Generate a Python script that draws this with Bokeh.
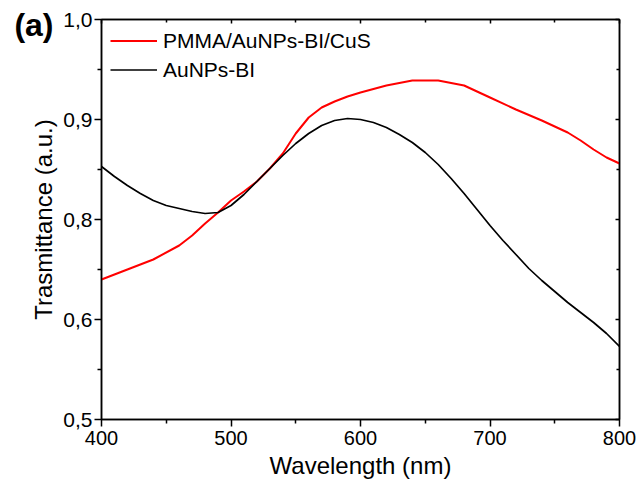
from bokeh.plotting import figure
from bokeh.models import (Range1d, FixedTicker, LinearAxis, Legend, LegendItem,
                          CustomLabelingPolicy)
from bokeh.embed import file_html
from bokeh.resources import INLINE

# Wavelength (nm)
wl_red = [400, 420, 440, 460, 470, 480, 490, 500, 510, 520, 530, 540, 550, 560,
          570, 580, 590, 600, 620, 640, 660, 680, 700, 720, 740, 760, 770, 780, 790, 800]
t_red = [0.740, 0.750, 0.760, 0.774, 0.784, 0.796, 0.807, 0.819, 0.828, 0.838, 0.851,
         0.866, 0.886, 0.902, 0.912, 0.918, 0.923, 0.927, 0.934, 0.939, 0.939, 0.934,
         0.922, 0.910, 0.899, 0.887, 0.879, 0.870, 0.862, 0.856]

wl_black = [400, 405, 410, 420, 430, 440, 450, 460, 470, 480, 490, 500, 510, 520, 530,
            540, 550, 560, 570, 580, 590, 600, 610, 620, 630, 640, 650, 660, 670, 680,
            690, 700, 710, 720, 730, 740, 750, 760, 770, 780, 790, 800]
t_black = [0.853, 0.848, 0.843, 0.834, 0.826, 0.819, 0.814, 0.811, 0.808, 0.806, 0.807,
           0.814, 0.825, 0.838, 0.851, 0.864, 0.876, 0.886, 0.894, 0.899, 0.901, 0.900,
           0.897, 0.892, 0.885, 0.877, 0.867, 0.855, 0.841, 0.826, 0.810, 0.794, 0.779,
           0.765, 0.751, 0.739, 0.728, 0.717, 0.707, 0.697, 0.686, 0.673]

x_ticks = [400, 500, 600, 700, 800]
x_minor = [450, 550, 650, 750]
y_ticks = [0.6, 0.7, 0.8, 0.9, 1.0]
y_minor = [0.65, 0.75, 0.85, 0.95]
y_tick_labels = {0.6: "0,5", 0.7: "0,6", 0.8: "0,8", 0.9: "0,9", 1.0: "1,0"}

series_names = ["PMMA/AuNPs-BI/CuS", "AuNPs-BI"]
panel_tag = "(a)"
panel_tag_y = 0.995

FONT = "Liberation Sans"

p = figure(frame_width=518, frame_height=400,
           min_border_left=101, min_border_right=19, min_border_top=19, min_border_bottom=66,
           x_range=Range1d(400, 800), y_range=Range1d(0.6, 1.0),
           output_backend="svg", toolbar_location=None,
           background_fill_color="white", border_fill_color="white")
p.grid.visible = False
p.outline_line_color = "black"
p.outline_line_width = 1.5

r_red = p.line(wl_red, t_red, line_color="#ff0000", line_width=2)
r_black = p.line(wl_black, t_black, line_color="#000000", line_width=1.7)

xa = p.xaxis[0]
xa.ticker = FixedTicker(ticks=x_ticks, minor_ticks=x_minor)
xa.axis_label = "Wavelength (nm)"
ya = p.yaxis[0]
ya.ticker = FixedTicker(ticks=y_ticks, minor_ticks=y_minor)
ya.axis_label = "Trasmittance (a.u.)"
ya.major_label_overrides = y_tick_labels

for ax in (xa, ya):
    ax.axis_line_width = 1.5
    ax.major_tick_line_width = 1.5
    ax.minor_tick_line_width = 1.5
    ax.major_tick_out = 7
    ax.major_tick_in = 0
    ax.minor_tick_out = 4
    ax.minor_tick_in = 0
    ax.major_label_text_font = FONT
    ax.major_label_text_color = "black"
    ax.axis_label_text_font = FONT
    ax.axis_label_text_font_size = "24px"
    ax.axis_label_text_font_style = "normal"
    ax.axis_label_text_color = "black"
xa.major_label_text_font_size = "20px"
ya.major_label_text_font_size = "21px"
xa.major_label_standoff = 4
xa.axis_label_standoff = 4
ya.major_label_standoff = 2
ya.axis_label_standoff = 3

# mirrored axes (ticks only, labels filtered out)
hide_all = CustomLabelingPolicy(code="for (const i of indices) { indices.unset(i) } return indices")
hide_all2 = CustomLabelingPolicy(code="for (const i of indices) { indices.unset(i) } return indices")
top = LinearAxis(ticker=FixedTicker(ticks=x_ticks, minor_ticks=x_minor), major_label_policy=hide_all)
right = LinearAxis(ticker=FixedTicker(ticks=y_ticks, minor_ticks=y_minor), major_label_policy=hide_all2)
for ax in (top, right):
    ax.axis_line_width = 1.5
    ax.major_tick_line_width = 1.5
    ax.minor_tick_line_width = 1.5
    ax.major_tick_out = 0
    ax.major_tick_in = 4
    ax.minor_tick_out = 0
    ax.minor_tick_in = 3
    ax.major_label_standoff = 0
p.add_layout(top, "above")
p.add_layout(right, "right")

# panel tag "(a)" drawn as the single label of an invisible outer left axis
tag_axis = LinearAxis(ticker=FixedTicker(ticks=[panel_tag_y], minor_ticks=[]),
                      major_label_overrides={panel_tag_y: panel_tag})
tag_axis.axis_line_color = None
tag_axis.major_tick_line_color = None
tag_axis.minor_tick_line_color = None
tag_axis.major_tick_out = 0
tag_axis.major_tick_in = 0
tag_axis.minor_tick_out = 0
tag_axis.minor_tick_in = 0
tag_axis.major_label_standoff = -26
tag_axis.major_label_text_font = FONT
tag_axis.major_label_text_font_size = "32px"
tag_axis.major_label_text_font_style = "bold"
tag_axis.major_label_text_color = "black"
p.add_layout(tag_axis, "left")

legend = Legend(items=[LegendItem(label=series_names[0], renderers=[r_red]),
                       LegendItem(label=series_names[1], renderers=[r_black])],
                location="top_left")
legend.border_line_alpha = 0
legend.background_fill_alpha = 0
legend.margin = 9
legend.padding = 0
legend.spacing = 4
legend.glyph_width = 47
legend.glyph_height = 25
legend.label_height = 25
legend.label_standoff = 6
legend.label_text_font = FONT
legend.label_text_font_size = "21px"
legend.label_text_color = "black"
p.add_layout(legend)

open("out.html", "w").write(file_html(p, INLINE))
